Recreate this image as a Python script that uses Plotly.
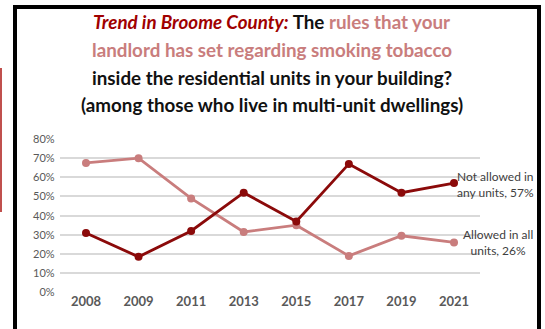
import plotly.graph_objects as go

# Survey years (category axis)
years = ["2008", "2009", "2011", "2013", "2015", "2017", "2019", "2021"]

# Share of multi-unit residents, by landlord smoking rule (%)
not_allowed_any = [31, 18.5, 32, 52, 37, 67, 52, 57]
allowed_all = [67.5, 70, 49, 31.5, 35, 19, 29.5, 26]

y_ticks = [0, 10, 20, 30, 40, 50, 60, 70, 80]
y_tick_text = [f"{v}%" for v in y_ticks]

W, H = 545, 329
DARK = "#8B0A0A"
ROSE = "#C97D7D"
FONT = "Lato"

fig = go.Figure()

fig.add_trace(go.Scatter(
    x=years, y=allowed_all, mode="lines+markers",
    line=dict(color=ROSE, width=2.8),
    marker=dict(color=ROSE, size=8),
    name="Allowed in all units", showlegend=False,
))
fig.add_trace(go.Scatter(
    x=years, y=not_allowed_any, mode="lines+markers",
    line=dict(color=DARK, width=2.8),
    marker=dict(color=DARK, size=8),
    name="Not allowed in any units", showlegend=False,
))

def px_x(v):
    return v / W

def px_y(v):
    return 1 - v / H

fig.update_layout(
    width=W, height=H,
    margin=dict(l=0, r=0, t=0, b=0),
    paper_bgcolor="white", plot_bgcolor="white",
    font=dict(family=FONT, color="#595959"),
    xaxis=dict(
        domain=[px_x(59.7), px_x(480.3)],
        type="category", range=[-0.5, 7.5],
        showgrid=False, showline=False, ticks="",
        tickfont=dict(size=13, color="#595959", family=FONT, weight="bold"),
        automargin=False,
    ),
    yaxis=dict(
        domain=[px_y(292.3), px_y(139)],
        range=[0, 80], tickvals=y_ticks, ticktext=y_tick_text,
        showgrid=True, gridcolor="#D9D9D9", gridwidth=1.5,
        zeroline=False, showline=False, ticks="",
        tickfont=dict(size=11, color="#595959", family=FONT),
        ticklabelstandoff=4,
        automargin=False,
    ),
)

# Title, one annotation per line
title_lines = [
    (22, f"<i><span style='color:#A00000'>Trend in Broome County:</span></i> "
         f"<span style='color:#111111'>The</span> "
         f"<span style='color:{ROSE}'>rules that your</span>"),
    (49, f"<span style='color:{ROSE}'>landlord has set regarding smoking tobacco</span>"),
    (77, "<span style='color:#111111'>inside the residential units in your building?</span>"),
    (104, "<span style='color:#111111'>(among those who live in multi-unit dwellings)</span>"),
]
for yc, txt in title_lines:
    fig.add_annotation(
        x=px_x(271.5), y=px_y(yc), xref="paper", yref="paper",
        text=f"<b>{txt}</b>", showarrow=False,
        xanchor="center", yanchor="middle",
        font=dict(size=18.8, family=FONT),
    )

# End-of-line labels
fig.add_annotation(
    x=px_x(495), y=px_y(184), xref="paper", yref="paper",
    text="Not allowed in<br>any units, 57%", showarrow=False,
    xanchor="center", yanchor="middle", align="center",
    font=dict(size=12, color="#404040", family=FONT),
)
fig.add_annotation(
    x=px_x(498), y=px_y(242), xref="paper", yref="paper",
    text="Allowed in all<br>units, 26%", showarrow=False,
    xanchor="center", yanchor="middle", align="center",
    font=dict(size=12, color="#404040", family=FONT),
)

# Black frame (open at the bottom) and red side bar
fig.add_shape(
    type="path", xref="paper", yref="paper",
    path=(f"M {px_x(15)},{px_y(330)} L {px_x(15)},{px_y(7)} "
          f"L {px_x(539)},{px_y(7)} L {px_x(539)},{px_y(330)}"),
    line=dict(color="black", width=4),
)
fig.add_shape(
    type="rect", xref="paper", yref="paper",
    x0=px_x(0), x1=px_x(2), y0=px_y(212), y1=px_y(68),
    line=dict(width=0), fillcolor="#C0504D",
)

fig.write_html("out.html")
